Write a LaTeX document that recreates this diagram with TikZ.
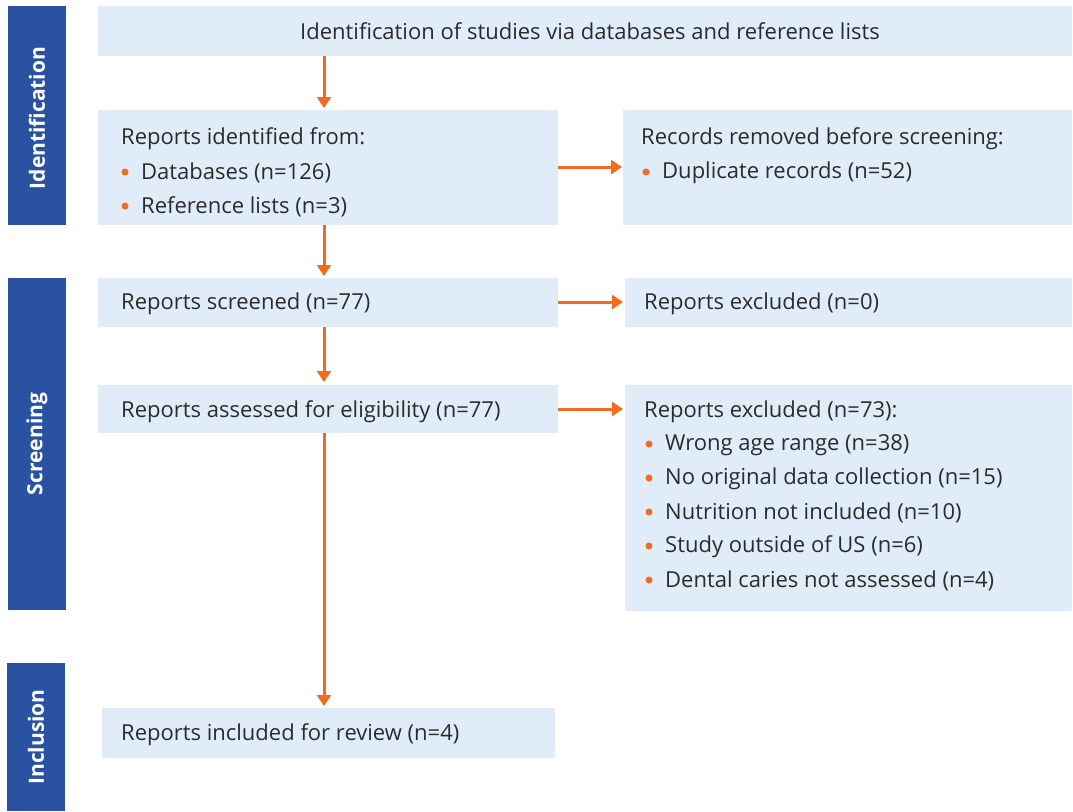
\documentclass[tikz,border=0pt]{standalone}
\usepackage{fontspec}
\setmainfont{Open Sans}
\usetikzlibrary{arrows.meta}
\definecolor{barblue}{HTML}{2A52A2}
\definecolor{boxfill}{HTML}{E0EDF9}
\definecolor{arrorange}{HTML}{F26B21}
\definecolor{txt}{HTML}{2B2B2B}
\tikzset{
  bar/.style={fill=barblue, draw=none},
  barlabel/.style={text=white, font=\fontsize{21}{24}\selectfont\bfseries, rotate=90, inner sep=0pt},
  box/.style={fill=boxfill, draw=none},
  txtline/.style={anchor=west, text=txt, font=\fontsize{22}{26}\selectfont, inner sep=0pt, yshift=-2pt},
  dot/.style={circle, fill=arrorange, inner sep=0pt, minimum size=7pt},
  flow/.style={draw=arrorange, line width=3pt, -{Triangle[width=14pt,length=11pt]}},
}
\begin{document}
\begin{tikzpicture}[x=1pt,y=-1pt]
\useasboundingbox (0,0) rectangle (1073,811);
% phase bars
\path[bar] (8,6) rectangle (66,225);
\node[barlabel] (lid) at (37,118) {Identification};
\path[bar] (8,278) rectangle (66,610);
\node[barlabel] (lsc) at (37,444) {Screening};
\path[bar] (7,663) rectangle (65,811);
\node[barlabel] (lin) at (36,737) {Inclusion};
% boxes
\path[box] (98,6) rectangle (1072,56);
\node[anchor=center, text=txt, font=\fontsize{22}{26}\selectfont, inner sep=0pt] (ttop) at (590,31) {Identification of studies via databases and reference lists};
\path[box] (98,110) rectangle (558,225);
\path[box] (623,110) rectangle (1072,225);
\path[box] (98,278) rectangle (558,327);
\path[box] (625,278) rectangle (1072,327);
\path[box] (98,385) rectangle (558,433);
\path[box] (625,385) rectangle (1072,611);
\path[box] (102,708) rectangle (555,758);
% anchors for connectors
\coordinate (topS) at (324,56);
\coordinate (idN) at (324,108);
\coordinate (idS) at (324,225);
\coordinate (idE) at (558,167);
\coordinate (remW) at (622,167);
\coordinate (scN) at (324,276);
\coordinate (scS) at (324,327);
\coordinate (scE) at (558,302);
\coordinate (exW) at (623,302);
\coordinate (asN) at (324,382);
\coordinate (asS) at (324,433);
\coordinate (asE) at (558,409);
\coordinate (ex2W) at (623,409);
\coordinate (inN) at (324,706);
% texts
\node[txtline] (t1) at (121,137) {Reports identified from:};
\node[dot] (d1) at (125,172) {};
\node[txtline] (t2) at (141,171) {Databases (n=126)};
\node[dot] (d2) at (125,206) {};
\node[txtline] (t3) at (141,205) {Reference lists (n=3)};
\node[txtline] (t4) at (641,137) {Records removed before screening:};
\node[dot] (d4) at (646,172) {};
\node[txtline] (t5) at (662,171) {Duplicate records (n=52)};
\node[txtline] (t6) at (121,302) {Reports screened (n=77)};
\node[txtline] (t7) at (644,302) {Reports excluded (n=0)};
\node[txtline] (t8) at (121,410) {Reports assessed for eligibility (n=77)};
\node[txtline] (t9) at (644,410) {Reports excluded (n=73):};
\node[dot] (d10) at (649,444) {};
\node[txtline] (t10) at (665,443) {Wrong age range (n=38)};
\node[dot] (d11) at (649,478) {};
\node[txtline] (t11) at (665,477) {No original data collection (n=15)};
\node[dot] (d12) at (649,512) {};
\node[txtline] (t12) at (665,511) {Nutrition not included (n=10)};
\node[dot] (d13) at (649,546) {};
\node[txtline] (t13) at (665,545) {Study outside of US (n=6)};
\node[dot] (d14) at (649,580) {};
\node[txtline] (t14) at (665,579) {Dental caries not assessed (n=4)};
\node[txtline] (t15) at (121,733) {Reports included for review (n=4)};
% connectors
\draw[flow] (topS) -- (idN);
\draw[flow] (idS) -- (scN);
\draw[flow] (idE) -- (remW);
\draw[flow] (scS) -- (asN);
\draw[flow] (scE) -- (exW);
\draw[flow] (asE) -- (ex2W);
\draw[flow] (asS) -- (inN);
\end{tikzpicture}
\end{document}
